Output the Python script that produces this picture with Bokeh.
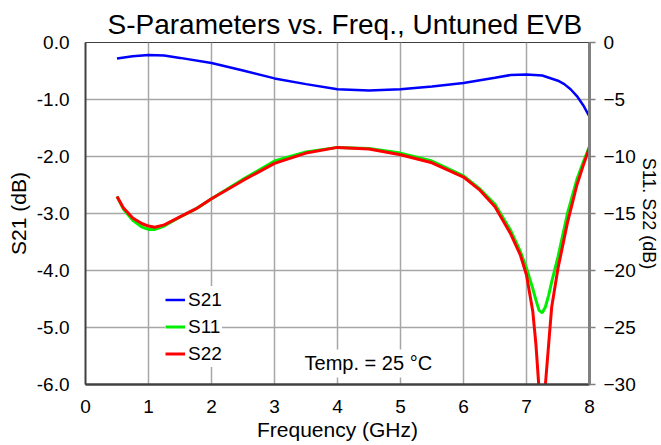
from bokeh.plotting import figure
from bokeh.models import Range1d, LinearAxis, FixedTicker, NumeralTickFormatter, Legend, LegendItem, Label
from bokeh.embed import file_html
from bokeh.resources import INLINE

FONT = "Liberation Sans"

title_text = "S-Parameters vs. Freq., Untuned EVB"
x_label = "Frequency (GHz)"
left_label = "S21 (dB)"
right_label = "S11. S22 (dB)"
note_text = "Temp. = 25 °C"

x_ticks = [0, 1, 2, 3, 4, 5, 6, 7, 8]
left_ticks = [0.0, -1.0, -2.0, -3.0, -4.0, -5.0, -6.0]
right_ticks = [0, -5, -10, -15, -20, -25, -30]

freq_s21 = [0.5, 0.75, 1.0, 1.25, 1.5, 2.0, 2.5, 3.0, 3.5, 4.0, 4.5, 5.0, 5.5,
            6.0, 6.5, 6.75, 7.0, 7.25, 7.5, 7.6, 7.7, 7.8, 7.9, 8.0]
s21 = [-0.28, -0.24, -0.22, -0.23, -0.27, -0.36, -0.49, -0.63, -0.73, -0.82, -0.84, -0.82, -0.77,
       -0.71, -0.62, -0.57, -0.56, -0.58, -0.67, -0.73, -0.82, -0.94, -1.10, -1.30]

freq_s = [0.5, 0.6, 0.75, 0.9, 1.0, 1.1, 1.25, 1.5, 1.75, 2.0, 2.5, 3.0, 3.5, 4.0, 4.5, 5.0,
          5.5, 6.0, 6.25, 6.5, 6.75, 6.9, 7.0, 7.1, 7.15, 7.2, 7.25, 7.3, 7.35, 7.4, 7.5,
          7.65, 7.8, 7.9, 8.0]
s11 = [-13.5, -14.6, -15.6, -16.2, -16.4, -16.4, -16.1, -15.3, -14.6, -13.7, -12.0, -10.4, -9.6,
       -9.2, -9.3, -9.7, -10.4, -11.7, -12.8, -14.2, -16.5, -18.3, -19.8, -21.6, -22.6, -23.5,
       -23.7, -23.2, -22.2, -21.0, -18.8, -15.0, -12.0, -10.5, -9.1]
s22 = [-13.5, -14.5, -15.4, -15.9, -16.1, -16.2, -16.0, -15.3, -14.6, -13.7, -12.1, -10.6, -9.7,
       -9.2, -9.35, -9.85, -10.55, -11.8, -12.9, -14.4, -16.8, -18.6, -20.4, -23.6, -26.5, -30.5,
       -33.0, -30.0, -26.6, -23.2, -19.8, -15.8, -12.5, -10.8, -9.2]

p = figure(width=661, height=445, x_range=Range1d(0, 8), y_range=Range1d(-6, 0),
           output_backend="svg", toolbar_location=None, title=title_text,
           min_border_left=85, min_border_right=72, min_border_top=42, min_border_bottom=61)
p.background_fill_color = "white"
p.border_fill_color = "white"
p.outline_line_color = "#404040"
p.outline_line_width = 1

p.title.align = "left"
p.title.offset = 22
p.title.text_font = FONT
p.title.text_font_size = "28px"
p.title.text_font_style = "normal"
p.title.text_color = "black"
p.title.standoff = 5

p.extra_y_ranges = {"right": Range1d(-30, 0)}

# bottom axis
xa = p.xaxis[0]
xa.ticker = FixedTicker(ticks=x_ticks)
xa.axis_label = x_label
xa.axis_line_color = "#404040"
xa.axis_line_width = 2.5
xa.major_tick_out = 0
xa.major_tick_in = 0
xa.minor_tick_line_color = None
xa.major_label_standoff = 15
xa.axis_label_standoff = 2
xa.major_label_text_font = FONT
xa.major_label_text_font_size = "19px"
xa.major_label_text_color = "black"
xa.axis_label_text_font = FONT
xa.axis_label_text_font_size = "21px"
xa.axis_label_text_font_style = "normal"
xa.axis_label_text_color = "black"

# left axis
ya = p.yaxis[0]
ya.ticker = FixedTicker(ticks=left_ticks)
ya.formatter = NumeralTickFormatter(format="0.0")
ya.axis_label = left_label
ya.axis_line_color = "#404040"
ya.axis_line_width = 2
ya.major_tick_out = 0
ya.major_tick_in = 0
ya.minor_tick_line_color = None
ya.major_label_standoff = 16
ya.axis_label_standoff = 4
ya.major_label_text_font = FONT
ya.major_label_text_font_size = "19px"
ya.major_label_text_color = "black"
ya.axis_label_text_font = FONT
ya.axis_label_text_font_size = "21px"
ya.axis_label_text_font_style = "normal"
ya.axis_label_text_color = "black"

# right axis
ra = LinearAxis(y_range_name="right", ticker=FixedTicker(ticks=right_ticks), axis_label=right_label)
ra.axis_line_color = "#808080"
ra.axis_line_width = 3
ra.major_tick_line_color = "#808080"
ra.major_tick_line_width = 1.5
ra.major_tick_out = 6
ra.major_tick_in = 0
ra.minor_tick_line_color = None
ra.major_label_standoff = 8
ra.axis_label_standoff = 0
ra.major_label_text_font = FONT
ra.major_label_text_font_size = "19px"
ra.major_label_text_color = "black"
ra.axis_label_text_font = FONT
ra.axis_label_text_font_size = "18px"
ra.axis_label_text_font_style = "normal"
ra.axis_label_text_color = "black"
p.add_layout(ra, "right")

# grids
p.xgrid.ticker = FixedTicker(ticks=x_ticks)
p.ygrid.ticker = FixedTicker(ticks=left_ticks)
for g in (p.xgrid[0], p.ygrid[0]):
    g.grid_line_color = "#a6a6a6"
    g.grid_line_width = 1.5

r21 = p.line(freq_s21, s21, line_color="#0000ff", line_width=2.5)
r11 = p.line(freq_s, s11, line_color="#00ee00", line_width=3, y_range_name="right")
r22 = p.line(freq_s, s22, line_color="#ff0000", line_width=3, y_range_name="right")

legend = Legend(items=[LegendItem(label="S21", renderers=[r21]),
                       LegendItem(label="S11", renderers=[r11]),
                       LegendItem(label="S22", renderers=[r22])],
                location=(80, 17))
legend.padding = 0
legend.margin = 0
legend.spacing = 0
legend.glyph_width = 20
legend.glyph_height = 27
legend.label_height = 27
legend.label_standoff = 3
legend.border_line_color = None
legend.background_fill_color = "white"
legend.background_fill_alpha = 1
legend.label_text_font = FONT
legend.label_text_font_size = "19px"
legend.label_text_color = "black"
p.add_layout(legend, "center")

note = Label(x=3.43, y=-5.63, text=note_text, text_font=FONT, text_font_size="20px",
             text_color="black", text_baseline="middle", text_align="left",
             background_fill_color="white", background_fill_alpha=1, padding=3)
p.add_layout(note)

open("out.html", "w").write(file_html(p, INLINE))
